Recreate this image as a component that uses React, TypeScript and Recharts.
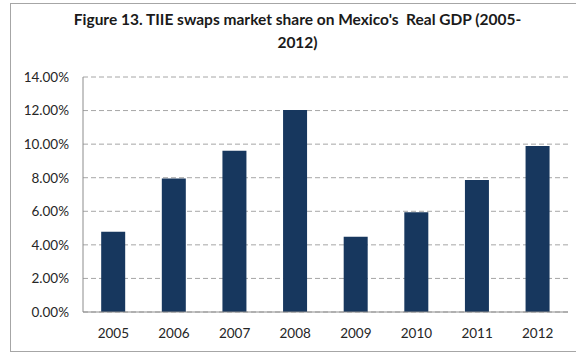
import { BarChart, Bar, XAxis, YAxis, CartesianGrid } from 'recharts'

const years = ['2005', '2006', '2007', '2008', '2009', '2010', '2011', '2012']
const marketShare = [0.0478, 0.0796, 0.096, 0.1203, 0.0449, 0.0594, 0.0786, 0.0989]
const yTicks = [0, 0.02, 0.04, 0.06, 0.08, 0.1, 0.12, 0.14]

const data = years.map((year, i) => ({ year, share: marketShare[i] }))

const font = 'Lato, "Open Sans", sans-serif'

export default function App() {
  return (
    <div style={{ position: 'fixed', left: 0, top: 0, width: 576, height: 354, overflow: 'hidden', background: '#fff' }}>
      <div
        style={{
          position: 'absolute',
          left: 10,
          top: 3,
          width: 590,
          height: 347,
          border: '1px solid #a6a6a6',
        }}
      />
      <div
        style={{
          position: 'absolute',
          left: 10,
          top: 8,
          width: 575,
          textAlign: 'center',
          fontFamily: font,
          fontWeight: 700,
          fontSize: 15.5,
          lineHeight: '23px',
          color: '#1a1a1a',
        }}
      >
        Figure 13. TIIE swaps market share on Mexico's&nbsp; Real GDP (2005-
        <br />
        2012)
      </div>
      <BarChart
        width={576}
        height={354}
        data={data}
        margin={{ top: 77, right: 8, bottom: 12, left: 0 }}
        barCategoryGap="30%"
        style={{ position: 'absolute', left: 0, top: 0 }}
      >
        <CartesianGrid vertical={false} stroke="#a6a6a6" strokeDasharray="5 3" />
        <XAxis
          dataKey="year"
          height={30}
          tickLine={false}
          tickMargin={10}
          axisLine={{ stroke: '#8c8c8c' }}
          tick={{ fill: '#262626', fontSize: 13.5, fontFamily: font }}
        />
        <YAxis
          width={83}
          domain={[0, 0.14]}
          ticks={yTicks}
          interval={0}
          tickLine={false}
          tickMargin={8}
          axisLine={{ stroke: '#8c8c8c' }}
          tickFormatter={(v: number) => `${(v * 100).toFixed(2)}%`}
          tick={{ fill: '#262626', fontSize: 13.5, fontFamily: font }}
        />
        <Bar dataKey="share" fill="#17375e" isAnimationActive={false} />
      </BarChart>
    </div>
  )
}
